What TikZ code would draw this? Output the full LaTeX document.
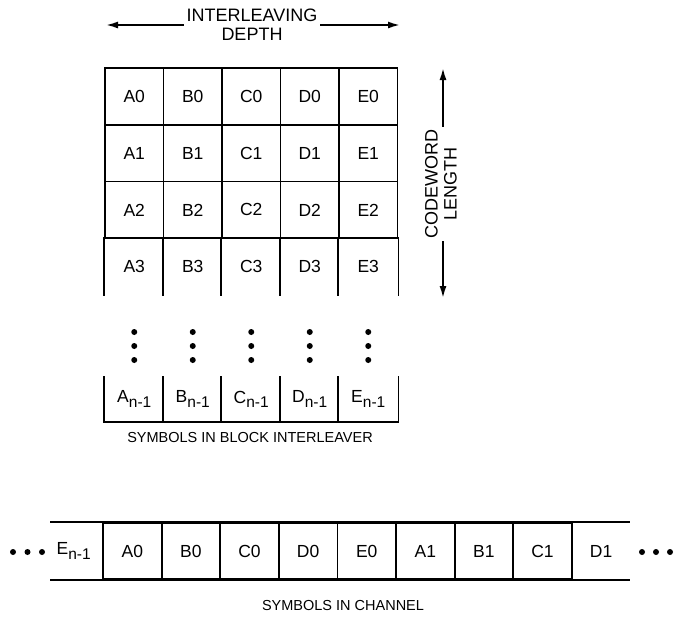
\documentclass[tikz,border=0pt]{standalone}
\usepackage{fontspec}
\setmainfont{Liberation Sans}
\usetikzlibrary{arrows.meta}
\newcommand{\subn}[1]{#1\raisebox{-0.45ex}{\fontsize{15.5}{15.5}\selectfont n-1}}
\begin{document}
\begin{tikzpicture}[
    x=1pt, y=-1pt,
    line width=1.8pt,
    cell/.style={
        rectangle,
        minimum width=58.5pt,
        minimum height=56.7pt,
        inner sep=0pt,
        draw,
        font=\fontsize{17.5}{19}\selectfont
    },
    opencell/.style={cell, draw=none},
    lastcell/.style={cell, draw=none, minimum height=44pt},
    chancell/.style={cell, minimum width=58.6pt, minimum height=56pt},
    caption/.style={font=\fontsize{14.5}{16}\selectfont, inner sep=0pt},
    header/.style={font=\fontsize{18}{19}\selectfont, align=center, inner sep=2pt},
    dimarrow/.style={-{Latex[length=12pt,width=7pt]}}
]

\useasboundingbox (0,0) rectangle (690,633);

\node[cell] (a0) at (134.25,96.5) {A0};
\node[cell] (b0) at (192.75,96.5) {B0};
\node[cell] (c0) at (251.25,96.5) {C0};
\node[cell] (d0) at (309.75,96.5) {D0};
\node[cell] (e0) at (368.25,96.5) {E0};

\node[cell] (a1) at (134.25,153.2) {A1};
\node[cell] (b1) at (192.75,153.2) {B1};
\node[cell] (c1) at (251.25,153.2) {C1};
\node[cell] (d1) at (309.75,153.2) {D1};
\node[cell] (e1) at (368.25,153.2) {E1};

\node[cell] (a2) at (134.25,209.9) {A2};
\node[cell] (b2) at (192.75,209.9) {B2};
\node[cell] (c2) at (251.25,209.9) {C2};
\node[cell] (d2) at (309.75,209.9) {D2};
\node[cell] (e2) at (368.25,209.9) {E2};

\node[opencell] (a3) at (134.25,266.6) {A3};
\node[opencell] (b3) at (192.75,266.6) {B3};
\node[opencell] (c3) at (251.25,266.6) {C3};
\node[opencell] (d3) at (309.75,266.6) {D3};
\node[opencell] (e3) at (368.25,266.6) {E3};
\draw (a3.north west) -- (a3.south west)
      (b3.north west) -- (b3.south west)
      (c3.north west) -- (c3.south west)
      (d3.north west) -- (d3.south west)
      (e3.north west) -- (e3.south west)
      (e3.north east) -- (e3.south east);

\foreach \x in {134.25,192.75,251.25,309.75,368.25}
    \foreach \y in {332,346,360}
        \fill (\x,\y) circle (3pt);

\node[lastcell] (an) at (134.25,399) {\subn{A}};
\node[lastcell] (bn) at (192.75,399) {\subn{B}};
\node[lastcell] (cn) at (251.25,399) {\subn{C}};
\node[lastcell] (dn) at (309.75,399) {\subn{D}};
\node[lastcell] (en) at (368.25,399) {\subn{E}};
\draw (an.north west) -- (an.south west) -- (en.south east) -- (en.north east)
      (bn.north west) -- (bn.south west)
      (cn.north west) -- (cn.south west)
      (dn.north west) -- (dn.south west)
      (en.north west) -- (en.south west);

\node[caption] (blockcap) at (250,437) {SYMBOLS IN BLOCK INTERLEAVER};

\node[header] (depth) at (252,25) {INTERLEAVING\\DEPTH};
\coordinate (depthl) at (106,25);
\coordinate (depthr) at (400,25);
\draw[dimarrow] (depth.west |- depthl) -- (depthl);
\draw[dimarrow] (depth.east |- depthr) -- (depthr);

\node[header, rotate=90] (cwlen) at (441,184) {CODEWORD\\LENGTH};
\coordinate (cwtop) at (443,68);
\coordinate (cwbot) at (443,298);
\draw[dimarrow] (cwlen.east -| cwtop) -- (cwtop);
\draw[dimarrow] (cwlen.west -| cwbot) -- (cwbot);

\node[chancell, draw=none] (chen) at (73.7,551) {\subn{E}};
\node[chancell] (cha0) at (132.3,551) {A0};
\node[chancell] (chb0) at (190.9,551) {B0};
\node[chancell] (chc0) at (249.5,551) {C0};
\node[chancell] (chd0) at (308.1,551) {D0};
\node[chancell] (che0) at (366.7,551) {E0};
\node[chancell] (cha1) at (425.3,551) {A1};
\node[chancell] (chb1) at (483.9,551) {B1};
\node[chancell] (chc1) at (542.5,551) {C1};
\node[chancell, draw=none] (chd1) at (601.1,551) {D1};
\coordinate (chl) at (50,551);
\coordinate (chr) at (630,551);
\draw (chen.north -| chl) -- (chd1.north -| chr)
      (chen.south -| chl) -- (chd1.south -| chr);

\foreach \x in {13,27.5,42,642,656,670}
    \fill (\x,552) circle (3pt);

\node[caption] (chancap) at (343,605) {SYMBOLS IN CHANNEL};

\end{tikzpicture}
\end{document}
